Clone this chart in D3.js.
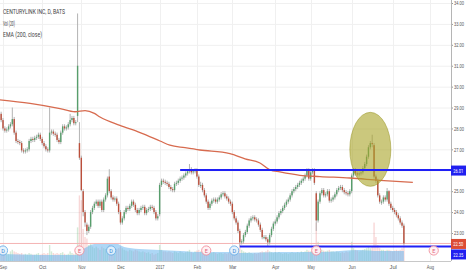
<!DOCTYPE html>
<html>
<head>
<meta charset="utf-8">
<script src="https://cdn.jsdelivr.net/npm/d3@7"></script>
<style>
body { margin: 0; background: #fff; }
svg { display: block; font-family: Roboto, "Liberation Sans", sans-serif; }
</style>
</head>
<body>
<div id="chart"></div>
<script>
// daily bars, index 0 = 2016-08-29 ... index 218 = 2017-07-12
let opens = [
	28.9,28.8,28.7,28.4,28.0,27.9,27.95,28.1,28.2,28.45,
	27.8,27.4,27.35,27.3,26.95,26.9,26.95,27.0,27.4,27.5,
	27.45,27.55,27.6,27.7,27.5,27.3,27.15,27.0,26.95,27.8,
	27.85,27.75,27.7,27.45,27.35,27.8,28.1,28.0,28.05,28.2,
	28.4,28.5,28.25,28.6,27.3,26.6,25.0,24.0,23.4,23.1,
	23.3,24.0,24.2,24.4,24.5,24.3,24.5,24.1,24.6,24.8,
	25.7,25.0,24.7,24.6,24.65,24.4,24.0,23.5,23.7,24.0,
	24.2,24.15,24.3,24.5,24.35,24.1,23.95,24.1,24.2,24.25,
	23.95,24.1,24.15,24.25,24.2,24.0,23.7,23.9,25.3,25.5,
	25.45,25.4,25.35,25.2,25.1,25.05,25.35,25.4,25.5,25.6,
	25.65,25.75,25.85,25.95,26.05,25.9,25.95,26.0,25.7,25.3,
	25.3,25.05,24.8,24.5,24.2,24.4,24.55,24.6,24.5,24.6,
	24.7,24.85,24.9,24.75,24.65,24.5,24.4,24.0,23.7,23.5,
	23.1,22.55,22.6,22.9,23.05,23.35,23.6,23.7,23.75,23.65,
	23.6,23.4,23.15,22.8,22.8,22.7,22.55,22.9,23.2,23.45,
	23.55,23.75,23.95,24.05,24.2,24.35,24.5,24.6,24.8,25.0,
	25.1,25.2,25.3,25.4,25.5,25.6,25.75,26.0,25.6,25.9,
	26.0,24.9,23.6,24.5,24.9,25.05,24.8,24.85,25.0,24.55,
	24.6,24.7,24.85,25.05,25.15,25.2,25.05,24.95,24.9,24.85,
	25.0,25.75,26.0,25.85,25.8,25.85,25.9,26.1,26.3,26.65,
	27.1,27.3,27.2,25.7,25.5,24.8,24.5,24.5,24.7,24.6,
	25.0,24.4,24.2,24.1,24.0,23.85,23.7,23.5,23.35
];
let highs = [
	29.0,28.95,28.8,28.5,28.1,28.05,28.2,28.3,29.0,28.55,
	27.9,27.5,27.45,27.4,27.05,27.05,27.1,27.5,27.6,27.6,
	27.65,27.7,27.8,27.8,27.6,27.4,27.25,27.1,29.0,27.95,
	27.95,27.85,27.8,27.55,27.9,28.2,28.2,28.15,28.3,28.7,
	28.6,28.6,28.4,33.5,28.3,26.7,25.1,24.1,23.5,23.4,
	24.1,24.3,24.5,24.6,24.6,24.6,24.6,24.7,24.9,25.7,
	26.05,25.1,24.8,24.75,24.75,24.5,24.1,23.8,24.1,24.3,
	24.3,24.4,24.6,24.6,24.45,24.2,24.2,24.3,24.35,24.35,
	24.2,24.25,24.35,24.35,24.3,24.1,23.9,25.4,25.6,25.6,
	25.55,25.5,25.45,25.3,25.2,25.45,25.5,25.6,25.7,25.75,
	25.85,25.95,26.05,26.3,26.15,26.0,26.1,26.1,25.8,25.45,
	25.4,25.15,24.9,24.6,24.5,24.65,24.7,24.7,24.7,24.8,
	24.95,25.0,25.0,24.85,24.75,24.6,24.5,24.1,23.8,23.6,
	23.2,22.7,23.0,23.15,23.45,23.7,23.8,23.85,23.85,23.75,
	23.7,23.5,23.25,22.9,22.9,22.8,23.0,23.3,23.55,23.65,
	23.85,24.05,24.15,24.3,24.45,24.6,24.7,24.9,25.1,25.2,
	25.3,25.4,25.5,25.6,25.7,25.85,26.1,26.1,26.0,26.1,
	26.1,25.0,24.6,25.0,25.15,25.15,24.95,25.1,25.1,24.7,
	24.8,24.95,25.15,25.25,25.3,25.3,25.15,25.05,25.0,25.1,
	25.85,26.1,26.1,25.95,25.95,26.0,26.2,26.4,26.75,27.2,
	27.4,27.7,27.3,25.8,25.6,24.9,24.6,24.8,24.8,25.15,
	25.05,24.5,24.3,24.2,24.1,23.95,23.8,23.6,23.45
];
let lows = [
	28.7,28.6,28.3,27.9,27.8,27.8,27.85,28.0,28.1,27.7,
	27.3,27.25,27.2,26.85,26.8,26.8,26.85,26.9,27.3,27.35,
	27.35,27.45,27.5,27.4,27.2,27.05,26.9,26.85,26.85,27.7,
	27.65,27.6,27.35,27.25,27.25,27.7,27.9,27.9,27.95,28.1,
	28.3,28.15,28.15,28.3,26.5,25.0,23.8,23.3,22.9,23.0,
	23.2,23.9,24.1,24.3,24.2,24.2,24.0,24.0,24.5,24.7,
	24.9,24.6,24.5,24.5,24.3,23.9,23.4,23.4,23.6,23.9,
	24.05,24.05,24.2,24.25,24.0,23.85,23.85,24.0,24.1,23.85,
	23.85,24.0,24.05,24.1,23.9,23.6,23.6,23.8,25.2,25.35,
	25.3,25.25,25.1,25.0,24.95,24.95,25.25,25.3,25.4,25.5,
	25.55,25.65,25.75,25.85,25.8,25.8,25.85,25.6,25.2,25.15,
	24.95,24.7,24.4,24.1,24.1,24.3,24.45,24.4,24.4,24.5,
	24.6,24.75,24.65,24.55,24.4,24.3,23.9,23.6,23.4,23.0,
	22.35,22.45,22.5,22.8,22.95,23.25,23.5,23.6,23.55,23.5,
	23.3,23.05,22.7,22.7,22.6,22.35,22.45,22.8,23.1,23.35,
	23.45,23.65,23.85,23.95,24.1,24.25,24.4,24.5,24.7,24.9,
	25.0,25.1,25.2,25.3,25.4,25.5,25.65,25.5,25.5,25.8,
	25.3,23.1,23.5,24.4,24.8,24.7,24.7,24.75,24.45,24.45,
	24.5,24.6,24.75,24.95,25.05,24.95,24.85,24.8,24.75,24.75,
	24.9,25.65,25.75,25.7,25.7,25.75,25.8,26.0,26.2,26.55,
	27.0,27.1,25.6,25.4,24.7,24.4,24.35,24.4,24.5,24.5,
	24.3,24.1,24.0,23.9,23.75,23.6,23.4,23.25,22.45
];
let closes = [
	28.8,28.7,28.4,28.0,27.9,27.95,28.1,28.2,28.45,27.8,
	27.4,27.35,27.3,26.95,26.9,26.95,27.0,27.4,27.5,27.45,
	27.55,27.6,27.7,27.5,27.3,27.15,27.0,26.95,27.8,27.85,
	27.75,27.7,27.45,27.35,27.8,28.1,28.0,28.05,28.2,28.4,
	28.5,28.25,28.3,31.0,26.6,25.05,24.0,23.5,23.1,23.3,
	24.0,24.2,24.4,24.5,24.3,24.5,24.1,24.6,24.8,25.6,
	25.0,24.7,24.6,24.65,24.4,24.0,23.5,23.7,24.0,24.2,
	24.15,24.3,24.5,24.35,24.1,23.95,24.1,24.2,24.25,23.95,
	24.1,24.15,24.25,24.2,24.0,23.7,23.8,25.3,25.5,25.45,
	25.4,25.35,25.2,25.1,25.05,25.35,25.4,25.5,25.6,25.65,
	25.75,25.85,25.95,26.05,25.9,25.95,26.0,25.7,25.3,25.3,
	25.05,24.8,24.5,24.2,24.4,24.55,24.6,24.5,24.6,24.7,
	24.85,24.9,24.75,24.65,24.5,24.4,24.0,23.7,23.5,23.1,
	22.55,22.6,22.9,23.05,23.35,23.6,23.7,23.75,23.65,23.6,
	23.4,23.15,22.8,22.8,22.7,22.55,22.9,23.2,23.45,23.55,
	23.75,23.95,24.05,24.2,24.35,24.5,24.6,24.8,25.0,25.1,
	25.2,25.3,25.4,25.5,25.6,25.75,26.0,25.6,25.9,26.0,
	25.4,23.6,24.5,24.9,25.05,24.8,24.85,25.0,24.55,24.6,
	24.7,24.85,25.05,25.15,25.2,25.05,24.95,24.9,24.85,25.0,
	25.75,26.0,25.85,25.8,25.85,25.9,26.1,26.3,26.65,27.1,
	27.3,27.25,25.7,25.5,24.8,24.5,24.5,24.7,24.6,25.0,
	24.4,24.2,24.1,24.0,23.85,23.7,23.5,23.35,22.5
];
// volume, millions
let volumes = [
	4.5,5,6,7,6.5,5,4.5,6,7,6,
	5.5,5,4.5,5,4,4.5,4,5,4.5,4,
	4,4.5,5,4,4.5,5,4.5,5,10,6,
	5,4.5,5,4.5,5,5.5,4.5,4,4.5,6,
	5,4.5,5,21,41,38,20,15,14,10,
	11,9,8,9,8,7,9,8,7.5,9,
	10,8,7,8,7.5,8,9,8,7,6.5,
	6,7,6.5,6,7,6.5,6,5.5,6,5.5,
	5,5.5,4.5,5,4,4.5,5,10,7,6,
	6,5.5,6,5.5,5,6,5.5,5,6,5.5,
	5,5.5,6,7,5.5,5,6,6.5,7,6,
	6,6.5,6,7,5.5,5,5.5,5,4.5,5,
	5,4.5,5,4.5,5,5.5,6,6.5,7,7.5,
	9,7,6,5.5,5,5.5,5,4.5,5,4.5,
	5,5.5,6,5.5,6,7,6,5.5,5,5.5,
	5,5.5,5,4.5,5,5,4.5,5,5.5,5,
	5,5.5,5,6,5.5,6,7,6.5,6,6,
	8,24,12,9,7,6.5,6,6.5,7,6,
	6,5.5,6,5.5,5,5.5,5,6,5.5,6,
	12,8,7,6.5,6,6.5,7,7.5,8,9,
	8,9,24,15,10,8,7,7,6.5,7,
	7,6.5,6,6.5,7,6.5,7,8,11
];

// Vol(20) at these bars
let volMaIdx = [0, 23, 42, 47, 52, 58, 63, 68, 76, 87, 98, 109, 125, 130, 151, 173, 194, 205, 218];
let volMaVal = [4.4, 3.8, 3.8, 8.1, 10.6, 11.25, 11.25, 8.75, 7.5, 6.9, 6.25, 5.6, 5.6, 5.0, 5.6, 5.6, 6.9, 6.25, 6.25];

// EMA(200, close)
let emaIdx = [0, 17.5, 33.6, 41.6, 47, 52, 55, 65.7, 76.5, 87.2, 92.5, 100.6, 108.6, 124.7, 132.8, 140.8, 146.2, 151.5, 162.2, 173, 189, 205.1, 222.8];
let emaVal = [29.38, 29.2, 28.95, 28.8, 28.85, 28.72, 28.55, 28.15, 27.8, 27.4, 27.2, 27.08, 26.97, 26.8, 26.55, 26.35, 26.02, 25.92, 25.76, 25.7, 25.63, 25.52, 25.42];

let monthLabels = ["Sep", "Oct", "Nov", "Dec", "2017", "Feb", "Mar", "Apr", "May", "Jun", "Jul", "Aug"];
let monthIdx = [3, 24, 45, 66, 87, 107, 126, 149, 168, 190, 212, 232];
let priceTicks = [23, 24, 25, 26, 27, 28, 29, 30, 31, 32, 33, 34];

// drawn lines: level, first bar
let levels = [26.01, 22.35];
let levelStart = [98, 130];
let lastPrice = 22.50;

let dividendIdx = [3, 61, 127];
let earningsIdx = [44, 112, 171, 234];

// highlight ellipse: centre bar / price, half spans
let ellipseIdx = 200, ellipsePrice = 27.0, ellipseBars = 11, ellipseSpan = 1.77;

let legend = ["CENTURYLINK INC, D, BATS", "Vol (20)", "EMA (200, close)"];
let legendWidth = [62, 12, 39];


let width = 466, height = 275;
let plotRight = 451, plotBottom = 261;
let narrow = 0.72; // squeeze for the narrow axis font

let svg = d3.select("#chart")
	.append("svg")
	.attr("width", width)
	.attr("height", height);

svg.append("rect").attr("width", width).attr("height", height).attr("fill", "#fff");

let x = d3.scaleLinear().domain([3, 232]).range([3, 430]);
let y = d3.scaleLinear().domain([23, 34]).range([233, 3]);
let yVol = d3.scaleLinear().domain([0, 40]).range([plotBottom, plotBottom - 64]);

svg.append("clipPath").attr("id", "plot")
	.append("rect").attr("width", plotRight).attr("height", plotBottom);

let plot = svg.append("g").attr("clip-path", "url(#plot)");

//grid
plot.selectAll(".hgrid").data(priceTicks).enter().append("line")
	.attr("x1", 0).attr("x2", plotRight)
	.attr("y1", d => y(d) + 0.5).attr("y2", d => y(d) + 0.5)
	.attr("stroke", "#f0f0f0");
plot.selectAll(".vgrid").data(monthIdx).enter().append("line")
	.attr("x1", d => Math.round(x(d)) + 0.5).attr("x2", d => Math.round(x(d)) + 0.5)
	.attr("y1", 0).attr("y2", plotBottom)
	.attr("stroke", "#f0f0f0");

//volume bars
plot.selectAll(".vol").data(volumes).enter().append("rect")
	.attr("x", (d, i) => x(i) - 0.7)
	.attr("width", 1.4)
	.attr("y", d => yVol(d))
	.attr("height", d => plotBottom - yVol(d))
	.attr("fill", (d, i) => closes[i] >= opens[i] ? "rgba(110,185,120,0.3)" : "rgba(230,110,110,0.28)");

//vol MA area
let volArea = d3.area()
	.x(d => x(d[0]))
	.y0(plotBottom)
	.y1(d => yVol(d[1]))
	.curve(d3.curveMonotoneX);
plot.append("path")
	.datum(d3.zip(volMaIdx, volMaVal))
	.attr("d", volArea)
	.attr("fill", "rgba(105,182,238,0.55)");

//last price line
plot.append("line")
	.attr("x1", 0).attr("x2", plotRight)
	.attr("y1", y(lastPrice)).attr("y2", y(lastPrice))
	.attr("stroke", "#f4b3b3").attr("stroke-width", 1);

//candles
let bars = plot.selectAll(".bar").data(closes).enter().append("g");
bars.append("line")
	.attr("x1", (d, i) => x(i)).attr("x2", (d, i) => x(i))
	.attr("y1", (d, i) => y(highs[i])).attr("y2", (d, i) => y(lows[i]))
	.attr("stroke", "#aaaaaa").attr("stroke-width", 0.9);
bars.append("rect")
	.attr("x", (d, i) => x(i) - 0.7)
	.attr("width", 1.4)
	.attr("y", (d, i) => y(Math.max(opens[i], d)))
	.attr("height", (d, i) => Math.max(1, Math.abs(y(opens[i]) - y(d))))
	.attr("fill", (d, i) => d >= opens[i] ? "#579e6c" : "#bb4f3b");

//EMA
let emaLine = d3.line().x(d => x(d[0])).y(d => y(d[1])).curve(d3.curveMonotoneX);
plot.append("path")
	.datum(d3.zip(emaIdx, emaVal))
	.attr("d", emaLine)
	.attr("fill", "none")
	.attr("stroke", "#d76b4f")
	.attr("stroke-width", 1.3);

//ellipse
plot.append("ellipse")
	.attr("cx", x(ellipseIdx))
	.attr("cy", y(ellipsePrice))
	.attr("rx", x(ellipseIdx + ellipseBars) - x(ellipseIdx))
	.attr("ry", y(ellipsePrice - ellipseSpan) - y(ellipsePrice))
	.attr("fill", "rgba(168,163,38,0.6)")
	.attr("stroke", "rgba(150,145,30,0.5)");

//level lines
plot.selectAll(".level").data(levels).enter().append("line")
	.attr("x1", (d, i) => x(levelStart[i]))
	.attr("x2", plotRight)
	.attr("y1", d => y(d)).attr("y2", d => y(d))
	.attr("stroke", "#2020f6")
	.attr("stroke-width", 2);

//events
let events = dividendIdx.map(d => ({i: d, t: "D"})).concat(earningsIdx.map(d => ({i: d, t: "E"})));
let ev = plot.selectAll(".ev").data(events).enter().append("g")
	.attr("transform", d => `translate(${x(d.i)},250.5)`);
ev.append("circle")
	.attr("r", 4.6)
	.attr("fill", d => d.t === "D" ? "rgba(228,242,252,0.9)" : "rgba(255,242,244,0.9)")
	.attr("stroke", d => d.t === "D" ? "#6aaee8" : "#f08e9c")
	.attr("stroke-width", 0.9);
ev.append("text")
	.attr("text-anchor", "middle")
	.attr("y", 2)
	.attr("font-size", 5.5)
	.attr("fill", d => d.t === "D" ? "#3a8ad8" : "#e2607a")
	.text(d => d.t);

//right axis
let yAxis = d3.axisRight(y)
	.tickValues(priceTicks)
	.tickFormat(d3.format(".2f"))
	.tickSize(2)
	.tickPadding(1);
let gy = svg.append("g")
	.attr("transform", `translate(${plotRight},0)`)
	.call(yAxis);
gy.select(".domain").remove();
gy.selectAll("line").attr("stroke", "#999");
gy.selectAll("text")
	.attr("x", 0)
	.attr("transform", `translate(3,0) scale(${narrow},1)`)
	.attr("font-size", 5.6)
	.attr("fill", "#555");

svg.append("line")
	.attr("x1", plotRight + 0.5).attr("x2", plotRight + 0.5)
	.attr("y1", 0).attr("y2", plotBottom)
	.attr("stroke", "#b5b5b5");

//bottom axis
let xAxis = d3.axisBottom(x)
	.tickValues(monthIdx)
	.tickFormat((d, i) => monthLabels[i])
	.tickSize(0)
	.tickPadding(4);
let gx = svg.append("g")
	.attr("transform", `translate(0,${plotBottom})`)
	.call(xAxis);
gx.select(".domain").attr("stroke", "#c8c8c8").attr("d", `M0,0.5H${plotRight}`);
gx.selectAll("text")
	.attr("font-size", 6)
	.attr("fill", "#555")
	.attr("textLength", (d, i) => monthLabels[i].length > 3 ? 8.8 : 7.3)
	.attr("lengthAdjust", "spacingAndGlyphs");

//price labels on the axis
let tags = [
	{v: levels[0], c: "#2020f0"},
	{v: lastPrice, c: "#dc4c34"},
	{v: levels[1], c: "#2020f0"}
];
let prevBottom = -100;
tags.forEach(t => {
	let cy = Math.max(y(t.v) + 0.5, prevBottom + 5.5);
	prevBottom = cy + 5;
	let g = svg.append("g").attr("transform", `translate(${plotRight},${cy})`);
	g.append("rect").attr("x", 0).attr("y", -5).attr("width", 15).attr("height", 10).attr("fill", t.c);
	g.append("text")
		.attr("transform", `translate(2.2,2.1) scale(${narrow},1)`)
		.attr("font-size", 5.6)
		.attr("fill", "#fff")
		.text(d3.format(".2f")(t.v));
});

//legend
svg.selectAll(".legend").data(legend).enter().append("text")
	.attr("x", 3)
	.attr("y", (d, i) => 14.3 + i * 11.3)
	.attr("font-size", 6.5)
	.attr("fill", "#444")
	.attr("textLength", (d, i) => legendWidth[i])
	.attr("lengthAdjust", "spacingAndGlyphs")
	.text(d => d);
</script>
</body>
</html>
